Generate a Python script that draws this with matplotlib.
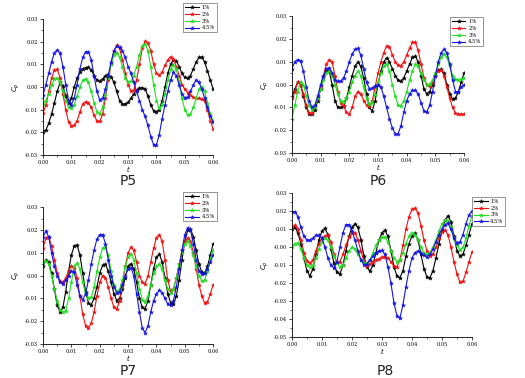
import numpy as np
import matplotlib
matplotlib.use('agg')
import matplotlib.pyplot as plt
from matplotlib.ticker import MultipleLocator, FormatStrFormatter

plt.rcParams['axes.unicode_minus'] = False

# time axis, one sample per 0.001 s
t = np.arange(61) * 0.001
labels = ['1%', '2%', '3%', '4.5%']
colors = ['black', '#ee1111', '#22dd22', '#1515e0']

p5_1 = [-0.0198, -0.019, -0.016, -0.012, -0.007, -0.002, 0.002, 0.0005, -0.004, -0.0072,
        -0.005, 0.0, 0.004, 0.0065, 0.008, 0.0085, 0.0087, 0.0075, 0.005, 0.003,
        0.0026, 0.0035, 0.005, 0.0055, 0.0045, 0.002, -0.002, -0.006, -0.0075, -0.0075,
        -0.0068, -0.005, -0.003, -0.0015, -0.0005, -0.0003, -0.001, -0.004, -0.008, -0.0105,
        -0.011, -0.01, -0.006, 0.0, 0.006, 0.01, 0.012, 0.0115, 0.009, 0.006,
        0.0042, 0.0038, 0.005, 0.008, 0.011, 0.013, 0.0132, 0.011, 0.007, 0.003, -0.001]
p5_2 = [-0.0115, -0.008, -0.002, 0.004, 0.0075, 0.0078, 0.004, -0.003, -0.01, -0.0155,
        -0.0172, -0.0168, -0.015, -0.011, -0.0075, -0.0065, -0.007, -0.009, -0.0125, -0.015,
        -0.0152, -0.012, -0.005, 0.003, 0.01, 0.016, 0.0183, 0.017, 0.012, 0.006,
        0.001, -0.0018, -0.0015, 0.003, 0.01, 0.017, 0.0202, 0.0195, 0.016, 0.01,
        0.006, 0.0052, 0.0065, 0.0095, 0.012, 0.0133, 0.0125, 0.009, 0.005, 0.001,
        -0.001, -0.0025, -0.0035, -0.0045, -0.005, -0.005, -0.0055, -0.006, -0.01, -0.015, -0.0185]
p5_3 = [-0.0075, -0.006, -0.003, 0.001, 0.0035, 0.004, 0.002, -0.002, -0.006, -0.009,
        -0.0095, -0.008, -0.004, 0.0, 0.003, 0.0035, 0.002, -0.002, -0.007, -0.011,
        -0.012, -0.009, -0.003, 0.004, 0.01, 0.014, 0.015, 0.013, 0.009, 0.004,
        0.0022, 0.0025, 0.005, 0.009, 0.014, 0.018, 0.019, 0.016, 0.009, 0.001,
        -0.006, -0.0095, -0.008, -0.003, 0.003, 0.008, 0.0098, 0.008, 0.002, -0.005,
        -0.01, -0.0123, -0.012, -0.009, -0.005, -0.001, 0.0, -0.002, -0.007, -0.012, -0.015]
p5_4 = [-0.0035, 0.001, 0.006, 0.011, 0.015, 0.0163, 0.015, 0.009, 0.001, -0.006,
        -0.0078, -0.005, 0.001, 0.008, 0.013, 0.0155, 0.0155, 0.012, 0.005, -0.002,
        -0.0058, -0.005, -0.001, 0.005, 0.011, 0.016, 0.018, 0.0175, 0.016, 0.013,
        0.009, 0.006, 0.002, -0.002, -0.006, -0.01, -0.013, -0.017, -0.022, -0.0255,
        -0.0255, -0.021, -0.014, -0.008, -0.002, 0.003, 0.0065, 0.005, 0.001, -0.003,
        -0.0048, -0.0045, -0.002, 0.001, 0.003, 0.002, -0.001, -0.005, -0.009, -0.013, -0.0155]

p6_1 = [-0.005, -0.002, 0.001, 0.0, -0.005, -0.01, -0.013, -0.013, -0.011, -0.007,
        -0.002, 0.003, 0.0065, 0.006, 0.0, -0.007, -0.01, -0.01, -0.0095, -0.006,
        -0.001, 0.004, 0.008, 0.01, 0.008, 0.003, -0.004, -0.01, -0.0115, -0.007,
        0.0, 0.006, 0.01, 0.0118, 0.01, 0.007, 0.004, 0.002, 0.0015, 0.003,
        0.006, 0.009, 0.012, 0.0125, 0.01, 0.004, -0.002, -0.004, -0.003, 0.0,
        0.004, 0.0065, 0.0068, 0.005, 0.0, -0.004, -0.0065, -0.006, -0.003, 0.001, 0.0053]
p6_2 = [-0.006, -0.003, 0.001, 0.0, -0.004, -0.009, -0.0125, -0.0125, -0.01, -0.006,
        -0.001, 0.004, 0.009, 0.011, 0.01, 0.004, -0.003, -0.008, -0.0095, -0.012,
        -0.013, -0.01, -0.005, -0.003, -0.004, -0.007, -0.009, -0.0095, -0.007, -0.001,
        0.005, 0.01, 0.014, 0.017, 0.0165, 0.013, 0.01, 0.0085, 0.0082, 0.01,
        0.013, 0.016, 0.0185, 0.0185, 0.015, 0.009, 0.003, 0.0, -0.0007, 0.001,
        0.004, 0.006, 0.0066, 0.004, -0.001, -0.006, -0.01, -0.0125, -0.013, -0.013, -0.0128]
p6_3 = [-0.015, -0.009, -0.003, 0.001, 0.0, -0.005, -0.009, -0.011, -0.01, -0.006,
        -0.002, 0.002, 0.005, 0.006, 0.004, 0.0, -0.004, -0.007, -0.0075, -0.006,
        -0.003, 0.001, 0.004, 0.006, 0.004, -0.001, -0.006, -0.0085, -0.008, -0.004,
        0.001, 0.005, 0.008, 0.009, 0.006, 0.0, -0.005, -0.009, -0.0092, -0.007,
        -0.003, 0.002, 0.006, 0.009, 0.008, 0.005, 0.002, 0.0, 0.0002, 0.002,
        0.005, 0.009, 0.012, 0.0133, 0.012, 0.008, 0.004, 0.0025, 0.002, 0.0025, 0.003]
p6_4 = [0.007, 0.01, 0.011, 0.0105, 0.006, -0.001, -0.007, -0.01, -0.009, -0.005,
        0.0, 0.004, 0.007, 0.0075, 0.005, 0.002, 0.0015, 0.0015, 0.003, 0.006,
        0.01, 0.0135, 0.0155, 0.016, 0.013, 0.007, 0.001, -0.0017, -0.0015, -0.0005,
        0.0, -0.001, -0.005, -0.01, -0.015, -0.019, -0.0215, -0.0215, -0.018, -0.012,
        -0.007, -0.004, -0.0025, -0.0025, -0.004, -0.008, -0.0115, -0.012, -0.009, -0.003,
        0.004, 0.01, 0.014, 0.0155, 0.014, 0.009, 0.002, -0.003, -0.003, -0.001, 0.0]

p7_1 = [0.004, 0.0068, 0.006, 0.001, -0.006, -0.013, -0.016, -0.014, -0.007, 0.002,
        0.009, 0.013, 0.0135, 0.009, 0.001, -0.007, -0.012, -0.0128, -0.01, -0.005,
        0.001, 0.0045, 0.005, 0.002, -0.003, -0.008, -0.011, -0.01, -0.006, -0.001,
        0.004, 0.0052, 0.003, -0.003, -0.01, -0.014, -0.0145, -0.011, -0.004, 0.003,
        0.008, 0.0094, 0.006, -0.001, -0.008, -0.012, -0.0125, -0.009, -0.002, 0.007,
        0.015, 0.02, 0.0205, 0.017, 0.011, 0.005, 0.0015, 0.001, 0.004, 0.009, 0.014]
p7_2 = [0.012, 0.0165, 0.017, 0.013, 0.007, 0.001, -0.0025, -0.003, -0.001, 0.002,
        0.004, 0.0035, -0.001, -0.009, -0.017, -0.022, -0.0228, -0.021, -0.016, -0.009,
        -0.003, 0.0, -0.001, -0.005, -0.01, -0.014, -0.0148, -0.011, -0.004, 0.004,
        0.01, 0.0125, 0.011, 0.006, 0.0, -0.003, -0.0035, 0.0, 0.006, 0.012,
        0.0165, 0.018, 0.015, 0.007, -0.002, -0.0068, -0.006, -0.001, 0.005, 0.011,
        0.015, 0.0165, 0.015, 0.01, 0.003, -0.004, -0.009, -0.012, -0.0115, -0.008, -0.004]
p7_3 = [0.006, 0.0065, 0.005, 0.0, -0.006, -0.011, -0.015, -0.016, -0.0155, -0.01,
        -0.003, 0.004, 0.0055, 0.003, -0.003, -0.008, -0.01, -0.0095, -0.005, 0.002,
        0.008, 0.012, 0.0125, 0.009, 0.002, -0.004, -0.007, -0.006, -0.002, 0.004,
        0.008, 0.0094, 0.007, 0.001, -0.006, -0.0105, -0.0115, -0.009, -0.004, 0.001,
        0.004, 0.005, 0.003, -0.002, -0.006, -0.0075, -0.006, -0.001, 0.005, 0.01,
        0.014, 0.015, 0.013, 0.009, 0.004, 0.0, -0.0025, -0.002, 0.002, 0.007, 0.011]
p7_4 = [0.017, 0.0195, 0.017, 0.01, 0.004, 0.0, -0.003, -0.0035, -0.002, 0.0,
        0.002, 0.0015, -0.004, -0.009, -0.0105, -0.008, -0.002, 0.005, 0.011, 0.016,
        0.018, 0.018, 0.014, 0.007, 0.0, -0.005, -0.0075, -0.007, -0.004, 0.0,
        0.003, 0.0035, 0.0, -0.008, -0.016, -0.023, -0.025, -0.022, -0.016, -0.011,
        -0.008, -0.0065, -0.0075, -0.01, -0.0125, -0.013, -0.011, -0.005, 0.003, 0.011,
        0.018, 0.021, 0.02, 0.014, 0.007, 0.002, 0.0005, 0.001, 0.003, 0.006, 0.009]

p8_1 = [0.01, 0.011, 0.008, 0.002, -0.006, -0.013, -0.016, -0.012, -0.004, 0.004,
        0.009, 0.0105, 0.007, -0.001, -0.009, -0.014, -0.015, -0.01, -0.002, 0.006,
        0.011, 0.013, 0.011, 0.004, -0.005, -0.011, -0.0134, -0.01, -0.003, 0.004,
        0.008, 0.0095, 0.006, -0.002, -0.011, -0.016, -0.017, -0.013, -0.005, 0.002,
        0.006, 0.0077, 0.004, -0.004, -0.012, -0.0165, -0.017, -0.013, -0.006, 0.002,
        0.009, 0.015, 0.0175, 0.014, 0.006, -0.002, -0.005, -0.004, 0.001, 0.007, 0.013]
p8_2 = [0.011, 0.0123, 0.01, 0.004, -0.003, -0.0075, -0.009, -0.007, -0.002, 0.002,
        0.005, 0.0062, 0.0067, 0.003, -0.004, -0.0085, -0.008, -0.004, 0.001, 0.0055,
        0.0078, 0.008, 0.004, -0.002, -0.008, -0.0105, -0.0095, -0.008, -0.007, -0.0065,
        -0.0055, -0.0053, -0.006, -0.008, -0.0105, -0.011, -0.007, 0.001, 0.01, 0.017,
        0.021, 0.0216, 0.019, 0.012, 0.004, -0.002, -0.005, -0.004, 0.0, 0.005,
        0.0085, 0.0095, 0.007, 0.0, -0.008, -0.015, -0.0195, -0.019, -0.014, -0.008, -0.0027]
p8_3 = [0.0, 0.002, 0.0022, -0.001, -0.006, -0.01, -0.011, -0.01, -0.006, -0.001,
        0.003, 0.0049, 0.004, 0.0, -0.005, -0.009, -0.011, -0.01, -0.006, -0.002,
        0.0, -0.001, -0.004, -0.007, -0.009, -0.009, -0.007, -0.003, 0.001, 0.004,
        0.0055, 0.0058, 0.003, -0.002, -0.006, -0.008, -0.007, -0.003, 0.002, 0.006,
        0.008, 0.007, 0.004, 0.0, -0.003, -0.004, -0.003, 0.0, 0.004, 0.009,
        0.013, 0.015, 0.0145, 0.011, 0.005, 0.001, -0.0016, 0.0, 0.005, 0.012, 0.0173]
p8_4 = [0.0198, 0.0198, 0.017, 0.011, 0.006, 0.004, 0.004, 0.005, 0.0065, 0.0068,
        0.005, 0.0, -0.006, -0.01, -0.0115, -0.008, 0.0, 0.008, 0.0125, 0.0125,
        0.009, 0.004, -0.002, -0.007, -0.0098, -0.0095, -0.007, -0.005, -0.003, -0.002,
        -0.0018, -0.004, -0.011, -0.02, -0.031, -0.038, -0.0394, -0.032, -0.022, -0.013,
        -0.006, -0.003, -0.0022, -0.003, -0.0045, -0.0052, -0.004, -0.001, 0.003, 0.007,
        0.01, 0.0125, 0.0133, 0.01, 0.005, 0.0025, 0.003, 0.007, 0.013, 0.018, 0.02]

panels = [
    ('P5', [p5_1, p5_2, p5_3, p5_4], (-0.03, 0.03), [0.082, 0.590, 0.324, 0.360], (0.349, 0.992), (0.244, 0.503)),
    ('P6', [p6_1, p6_2, p6_3, p6_4], (-0.03, 0.03), [0.556, 0.595, 0.328, 0.362], (0.857, 0.955), (0.72, 0.503)),
    ('P7', [p7_1, p7_2, p7_3, p7_4], (-0.03, 0.03), [0.082, 0.090, 0.324, 0.362], (0.349, 0.492), (0.244, 0.0)),
    ('P8', [p8_1, p8_2, p8_3, p8_4], (-0.05, 0.03), [0.556, 0.108, 0.343, 0.381], (0.899, 0.479), (0.733, 0.0)),
]

fig = plt.figure(figsize=(5.25, 3.78), dpi=100)
serif = 'DejaVu Serif'
for name, series, ylim, pos, legpos, titlepos in panels:
    ax = fig.add_axes(pos)
    for y, c, lab in zip(series, colors, labels):
        ax.plot(t, y, color=c, lw=0.8, marker='*', ms=3.0, mew=0.3, label=lab)
    ax.set_xlim(0, 0.06)
    ax.set_ylim(*ylim)
    ax.spines['top'].set_visible(False)
    ax.spines['right'].set_visible(False)
    for s in ['left', 'bottom']:
        ax.spines[s].set_linewidth(0.6)
    ax.xaxis.set_major_locator(MultipleLocator(0.01))
    ax.xaxis.set_minor_locator(MultipleLocator(0.005))
    ax.yaxis.set_major_locator(MultipleLocator(0.01))
    ax.yaxis.set_minor_locator(MultipleLocator(0.005))
    ax.xaxis.set_major_formatter(FormatStrFormatter('%.2f'))
    ax.yaxis.set_major_formatter(FormatStrFormatter('%.2f'))
    ax.tick_params(which='major', length=2, width=0.5, labelsize=3.6, pad=1.5)
    ax.tick_params(which='minor', length=1.2, width=0.4)
    for lbl in ax.get_xticklabels() + ax.get_yticklabels():
        lbl.set_family(serif)
    ax.set_xlabel('t', fontsize=5, fontstyle='italic', family=serif, labelpad=1)
    ax.set_ylabel('$C_p$', fontsize=5, labelpad=2)
    leg = ax.legend(loc='upper left', bbox_to_anchor=legpos, bbox_transform=fig.transFigure,
                    prop={'family': serif, 'size': 3.8}, frameon=True, fancybox=False,
                    handlelength=2.6, handletextpad=0.5, borderpad=0.35, labelspacing=0.35,
                    borderaxespad=0)
    leg.get_frame().set_edgecolor('#444444')
    leg.get_frame().set_linewidth(0.5)
    fig.text(titlepos[0], titlepos[1], name, fontsize=10, ha='center', va='bottom', color='#222222')

fig.savefig('out.png', dpi=100)
